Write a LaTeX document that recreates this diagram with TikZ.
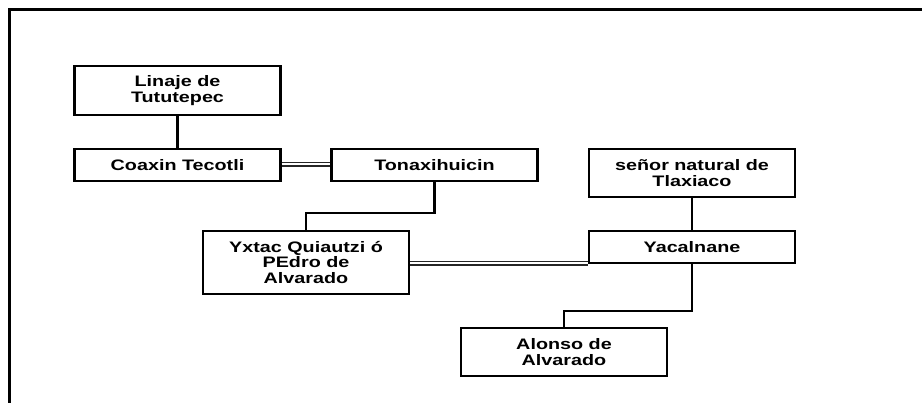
\documentclass[tikz,border=0pt]{standalone}
\usepackage{fontspec}
\setmainfont{Liberation Sans}[FakeStretch=1.3]
\begin{document}
\begin{tikzpicture}[x=1pt,y=-1pt,
  person/.style={draw=black, line width=2.1pt, fill=white, minimum width=206pt,
    inner sep=2pt, align=center, font=\fontsize{15.2}{15.5}\selectfont\bfseries, text=black},
  descent/.style={draw=black, line width=2.1pt},
  marriage/.style={draw=black!85, double=white, double distance=2.2pt, line width=1.4pt}]
  \useasboundingbox (0,0) rectangle (922,403);
  % outer frame (top and left edges)
  \draw[line width=3pt, black] (922,10) -- (9,10) -- (9,403);

  % people
  \node[person, minimum height=49pt] (L)  at (177.5,90.5) {Linaje de\\Tututepec};
  \node[person, minimum height=32pt] (C)  at (177.5,165)  {Coaxin Tecotli};
  \node[person, minimum height=32pt] (T)  at (434.5,165)  {Tonaxihuicin};
  \node[person, minimum height=48pt] (S)  at (692,173)    {señor natural de\\Tlaxiaco};
  \node[person, minimum height=63pt] (Y)  at (306,262.5)  {Yxtac Quiautzi ó\\PEdro de\\Alvarado};
  \node[person, minimum height=32pt] (Ya) at (692,247)    {Yacalnane};
  \node[person, minimum height=48pt] (A)  at (564,352)    {Alonso de\\Alvarado};

  % elbow heights of the descent lines
  \coordinate (j1) at (0,213);
  \coordinate (j2) at (0,311);

  % descent
  \draw[descent] (L.south) -- (C.north);
  \draw[descent] (T.south) -- (T.south |- j1) -| (Y.north);
  \draw[descent] (S.south) -- (Ya.north);
  \draw[descent] (Ya.south) -- (Ya.south |- j2) -| (A.north);

  % marriages
  \draw[marriage] ([yshift=0.8pt]C.east) -- ([yshift=0.8pt]T.west);
  \draw[marriage] ([yshift=1pt]Ya.south west) -- ([yshift=1pt]Ya.south west -| Y.east);
\end{tikzpicture}
\end{document}
